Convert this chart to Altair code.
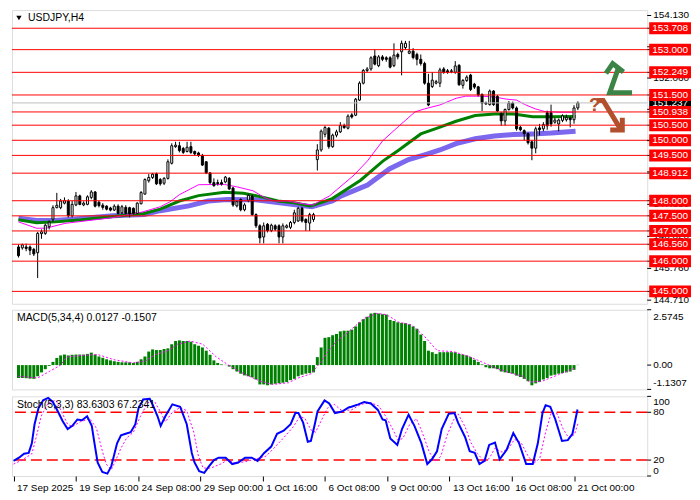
import altair as alt
import pandas as pd

FONT = "Liberation Sans"
W = 638
H_PRICE = 295
H_MACD = 80
H_STOCH = 80

TITLE = "USDJPY,H4"
MACD_TITLE = "MACD(5,34,4) 0.0127 -0.1507"
STOCH_TITLE = "Stoch(5,3,3) 83.6303 67.2341"

OPEN = [146.47,146.44,146.47,146.47,146.39,146.28,146.91,146.92,147.14,147.39,
        147.77,147.77,147.92,147.99,147.50,147.86,148.16,147.86,147.88,148.11,
        148.29,147.95,147.85,147.82,147.76,147.69,147.82,147.60,147.78,147.77,
        147.75,147.58,147.90,148.22,148.66,148.77,148.89,148.70,148.58,148.74,
        149.24,149.79,149.82,149.73,149.63,149.79,149.63,149.58,149.50,149.29,
        148.92,148.60,148.60,148.60,148.62,148.74,148.42,147.83,148.04,147.70,
        148.02,148.15,147.54,147.17,146.80,147.22,147.01,147.17,147.17,146.80,
        147.12,147.12,147.28,147.33,147.75,147.38,147.26,147.38,149.36,149.68,
        150.20,150.40,149.79,150.17,150.28,150.49,150.40,150.84,150.83,151.33,
        151.89,152.31,152.36,152.79,152.47,152.76,152.73,152.73,152.47,152.84,
        152.93,153.07,152.88,152.95,152.84,152.68,152.54,151.89,151.78,151.89,
        151.89,152.36,152.30,152.27,152.25,152.48,151.82,151.98,152.16,151.86,
        151.77,151.52,151.24,151.18,151.63,151.45,150.88,150.64,151.02,151.23,
        151.07,150.43,150.32,150.22,149.95,149.74,150.41,150.38,150.91,150.91,
        150.60,150.54,150.66,150.68,150.74,150.68,151.07]
HIGH = [146.55,146.58,146.58,146.52,146.44,146.97,147.05,147.24,147.35,147.85,
        148.26,148.06,148.11,148.05,148.00,148.29,148.20,147.98,148.18,148.35,
        148.32,148.00,147.92,147.85,147.80,147.88,147.88,147.86,147.85,147.80,
        147.78,147.95,148.32,148.74,148.88,148.92,148.93,148.75,148.78,149.37,
        149.90,149.95,149.95,149.78,149.95,149.95,149.66,149.62,149.55,149.30,
        148.95,148.74,148.70,148.70,148.82,148.78,148.46,148.00,148.08,147.92,
        148.23,148.20,147.58,147.22,147.28,147.26,147.24,147.22,147.22,147.25,
        147.22,147.33,147.70,147.80,147.80,147.42,147.60,147.60,149.87,150.36,
        150.48,150.44,150.22,150.35,150.60,150.55,150.86,150.90,151.40,151.95,
        152.36,152.42,152.78,153.00,152.82,152.82,152.78,152.78,153.21,152.90,
        153.30,153.29,153.29,153.05,152.90,152.84,152.60,152.20,152.26,152.00,
        152.40,152.42,152.36,152.36,152.62,152.52,152.03,152.15,152.20,151.90,
        151.80,151.55,151.28,151.68,151.66,151.50,150.93,151.05,151.30,151.28,
        151.12,150.48,150.36,150.26,150.00,150.45,150.54,150.60,150.98,151.18,
        150.75,150.72,150.86,150.85,150.79,151.16,151.29]
LOW = [146.12,146.38,146.33,146.20,146.17,145.44,146.74,146.87,147.05,147.30,
       147.75,147.72,147.88,147.45,147.45,147.82,147.85,147.82,147.85,148.05,
       147.78,147.78,147.70,147.68,147.65,147.66,147.55,147.56,147.55,147.45,
       147.55,147.55,147.88,148.20,148.60,148.72,148.52,148.50,148.52,148.70,
       149.20,149.75,149.60,149.55,149.60,149.55,149.50,149.45,149.15,148.88,
       148.55,148.46,148.50,148.50,148.58,148.35,147.80,147.78,147.65,147.65,
       147.95,147.50,147.10,146.59,146.59,146.95,146.96,147.00,146.59,146.59,
       147.08,147.06,147.22,147.30,147.28,147.00,147.00,147.30,149.00,149.62,
       150.10,149.72,149.75,150.10,150.24,150.38,150.36,150.72,150.80,151.30,
       151.85,152.25,152.30,152.48,152.42,152.62,152.60,152.38,152.42,152.68,
       152.15,153.00,152.85,152.68,152.48,152.47,151.84,151.13,151.73,151.85,
       151.76,152.20,152.20,152.22,152.20,151.80,151.71,151.93,151.63,151.70,
       151.45,150.97,151.18,151.15,151.14,150.94,150.48,150.48,150.98,151.02,
       150.32,150.30,150.00,149.86,149.34,149.57,150.16,150.30,150.35,150.45,
       150.55,150.30,150.60,150.62,150.43,150.55,151.00]
CLOSE = [146.18,146.54,146.42,146.36,146.24,146.92,146.97,147.19,147.29,147.77,
         147.85,147.99,148.00,147.50,147.88,148.16,147.88,147.92,148.13,148.29,
         147.82,147.84,147.78,147.72,147.69,147.82,147.58,147.80,147.58,147.57,
         147.58,147.92,148.27,148.70,148.77,148.88,148.56,148.56,148.74,149.29,
         149.82,149.84,149.66,149.60,149.77,149.60,149.55,149.50,149.18,148.92,
         148.60,148.50,148.57,148.55,148.78,148.39,147.86,147.97,147.70,147.86,
         148.18,147.54,147.17,146.77,147.17,147.01,147.19,147.06,146.80,147.17,
         147.17,147.28,147.60,147.75,147.33,147.28,147.54,147.54,149.68,150.30,
         150.42,149.79,150.17,150.28,150.49,150.42,150.80,150.77,151.36,151.89,
         152.31,152.36,152.73,152.52,152.76,152.68,152.68,152.42,152.82,152.76,
         153.21,153.21,152.95,152.74,152.68,152.54,151.89,151.17,151.99,151.94,
         152.33,152.25,152.25,152.30,152.46,151.84,151.98,152.09,151.68,151.76,
         151.50,151.23,151.20,151.63,151.18,150.97,150.64,151.02,151.23,151.07,
         150.38,150.35,150.22,149.92,149.74,150.38,150.35,150.52,150.48,150.54,
         150.67,150.67,150.81,150.76,150.68,151.07,151.237]

FAST_I = [0,4.7,7.2,12.1,24.6,32.1,37.0,39.5,42.0,47.0,53.7,57.0,61.2,64.4,66.9,70.2,75.1,76.9,79.4,81.1,
          87.6,91.1,95.1,99.3,103.5,106.0,110.0,114.2,116.7,121.0,124.2,127.5,130.0,132.4,134.9,137.4,140.9,145.4]
FAST_P = [147.30,147.09,147.09,147.25,147.44,147.62,147.80,147.96,148.20,148.53,148.54,148.46,148.33,148.09,147.99,147.99,147.88,147.86,148.04,148.15,
          148.85,149.32,149.99,150.47,150.94,151.04,151.17,151.39,151.46,151.46,151.43,151.36,151.33,151.17,151.04,150.95,150.93,150.93]
MID_I = [0,4.7,9.6,16.4,24.6,32.8,37.0,42.0,47.0,53.7,58.7,63.7,67.7,71.9,76.1,77.6,81.9,89.3,95.1,99.3,
         105.0,109.3,114.2,119.2,124.2,129.2,134.2,139.1,145.4]
MID_P = [147.37,147.27,147.30,147.37,147.48,147.58,147.72,147.99,148.17,148.28,148.25,148.12,147.99,147.93,147.83,147.88,148.07,148.68,149.31,149.68,
         150.21,150.40,150.63,150.82,150.87,150.87,150.78,150.78,150.79]
SLOW_I = [0,4.7,9.6,16.4,24.6,32.8,37.0,44.5,49.5,54.5,61.9,70.2,76.6,81.9,84.4,91.1,96.8,101.8,106.0,110.0,
          114.2,119.2,124.2,129.2,134.2,139.1,145.4]
SLOW_P = [147.42,147.35,147.35,147.41,147.50,147.54,147.67,147.83,147.99,148.04,148.03,147.90,147.80,147.99,148.17,148.52,149.05,149.36,149.52,149.68,
          149.89,150.05,150.14,150.19,150.21,150.24,150.30]

LEVELS = [153.708, 153.000, 152.249, 151.500, 150.938, 150.500, 150.000, 149.500,
          148.912, 148.000, 147.500, 147.000, 146.560, 146.000, 145.000]
CURRENT = 151.237
PRICE_TICKS = [154.130, 153.095, 152.060, 151.025, 149.990, 148.955, 147.880, 146.820, 145.760, 144.710]
PRICE_TICK_LABELS = [154.130, 152.060, 147.880, 146.820, 145.760, 144.710]

MACD_HIST = [-0.60,-0.60,-0.61,-0.63,-0.64,-0.52,-0.34,-0.19,-0.04,0.15,
             0.33,0.45,0.49,0.45,0.48,0.49,0.49,0.49,0.52,0.58,
             0.49,0.40,0.34,0.27,0.22,0.18,0.15,0.13,0.13,0.13,
             0.10,0.15,0.27,0.40,0.63,0.73,0.70,0.70,0.75,0.78,
             0.97,1.12,1.15,1.12,1.12,1.09,0.97,0.90,0.82,0.67,
             0.48,0.22,0.10,0.03,0.01,-0.07,-0.19,-0.30,-0.40,-0.48,
             -0.52,-0.57,-0.67,-0.90,-0.90,-0.94,-0.90,-0.87,-0.85,-0.82,
             -0.79,-0.70,-0.64,-0.52,-0.45,-0.40,-0.37,-0.34,0.37,0.82,
             1.27,1.30,1.39,1.45,1.57,1.60,1.60,1.65,
             1.80,1.99,2.14,2.25,2.40,2.43,2.40,2.37,2.35,2.10,
             2.05,1.99,1.96,1.95,1.90,1.80,1.69,1.42,1.12,0.67,
             0.60,0.52,0.60,0.60,0.60,0.60,0.60,0.52,0.49,0.45,
             0.37,0.25,0.15,0.03,-0.10,-0.15,-0.15,-0.19,-0.30,-0.34,
             -0.37,-0.40,-0.49,-0.55,-0.64,-0.75,-0.94,-0.85,-0.79,-0.67,
             -0.60,-0.49,-0.45,-0.40,-0.37,-0.34,-0.30,-0.22,0.01]
MACD_SIG_I = [0,5,8,11,12.5,16.6,20.7,24.9,29.9,33.2,35.7,39,41.5,44.8,48.1,51.5,54.8,58.1,63.1,66.4,
              70.5,73,76.4,78.9,82.2,86.8,90.2,93.5,96,99.3,102.6,105.9,109.3,113.4,117.6,120.9,124.3,128.4,131.7,133.4,
              136.7,140.9,145]
MACD_SIG_V = [-0.52,-0.60,-0.30,0.0,0.37,0.45,0.49,0.25,0.10,0.19,0.49,0.67,0.97,1.12,0.97,0.40,0.0,-0.34,-0.75,-0.90,
              -0.82,-0.60,-0.40,0.15,0.97,1.65,2.17,2.40,2.35,1.99,1.87,1.35,0.67,0.63,0.40,0.15,-0.12,-0.37,-0.52,-0.79,
              -0.75,-0.45,-0.15]
MACD_MAX_LABEL = "2.5745"
MACD_MIN_LABEL = "-1.1307"
MACD_DOMAIN = [-1.1307, 2.5745]

STOCH_K_I = [0,1.4,2.7,3.9,4.7,5.4,6.4,7.6,8.9,10.1,11.4,12.6,13.9,15.1,16.4,17.6,18.9,20.1,20.8,21.6,
             22.8,24.1,25.1,26.6,27.6,28.8,30.1,31.3,32.1,33.3,35.0,35.8,37.0,37.8,39.0,40.8,42.8,44.5,45.8,46.5,
             47.7,49.0,50.2,51.5,52.7,54.5,56.2,57.7,59.5,61.2,62.7,64.4,66.2,67.7,69.4,71.2,72.4,73.2,74.4,75.6,
             76.4,77.4,78.1,79.9,81.1,82.6,84.4,86.1,86.8,88.6,90.1,91.8,93.6,94.8,95.6,96.8,98.6,99.8,101.5,103.0,
             104.8,106.3,107.5,108.8,110.0,111.8,113.3,114.2,116.0,117.2,118.5,119.7,121.0,122.2,123.7,124.9,126.7,128.4,129.9,131.7,
             133.4,134.7,135.9,136.7,137.9,139.2,140.9,142.4,143.6,144.9]
STOCH_K_V = [19,23,28,29,41,65,85,95,98,93,81,69,59,63,71,70,75,63,41,17,
             5,3,12,41,51,53,55,65,85,96,97,89,75,63,75,90,87,65,29,17,
             6,4,12,20,23,23,15,17,23,23,19,29,37,53,57,65,79,79,67,43,
             44,65,81,95,91,79,81,86,87,90,93,91,83,71,70,47,39,59,77,63,
             41,15,21,31,59,78,79,67,49,31,29,15,19,39,42,21,33,54,41,15,
             15,41,79,89,87,71,44,45,53,83.6]
STOCH_D_I = [0,2.2,4.7,5.9,7.1,8.9,10.9,12.6,13.9,15.1,17.1,19.6,21.3,22.6,23.8,25.1,26.3,27.6,29.1,30.8,
             32.6,34.5,36.3,37.8,39.0,40.8,42.8,44.5,46.3,47.5,48.7,50.7,53.2,55.0,57.0,59.5,61.9,64.9,66.9,69.4,
             71.9,73.6,74.9,76.4,77.6,78.9,80.6,82.4,84.4,86.8,89.3,91.8,93.8,95.6,97.3,98.8,100.0,101.8,103.5,105.0,
             106.8,108.5,109.8,111.3,113.0,114.2,116.0,117.5,119.2,121.0,122.2,123.7,125.5,127.2,128.7,130.4,132.2,133.7,135.2,136.7,
             138.2,139.7,141.1,142.6,144.1,145.1]
STOCH_D_V = [15,20,28,50,75,92,95,78,65,62,68,72,60,35,15,8,20,35,48,55,
             75,92,93,80,68,80,86,82,55,25,10,10,15,20,16,18,21,25,35,48,
             62,75,72,58,55,68,85,90,82,83,90,92,88,75,60,45,47,65,72,55,
             30,18,25,50,70,78,62,42,28,18,22,35,30,35,46,42,25,16,22,55,
             80,78,60,48,52,67]
STOCH_LEVELS = [80, 20]

X_TICK_IDX = [0, 16, 32, 48, 64, 80, 96, 112, 128, 144]
X_TICK_LABELS = ["17 Sep 2025", "19 Sep 16:00", "24 Sep 08:00", "29 Sep 00:00", "1 Oct 16:00",
                 "6 Oct 08:00", "9 Oct 00:00", "13 Oct 16:00", "16 Oct 08:00", "21 Oct 00:00"]

# chart objects (buy / sell arrows) anchored in bar index / price
ARROW_UP_I = [153.7, 155.1, 157.4, 156.4, 154.3, 159.5]
ARROW_UP_P = [152.28, 152.54, 152.31, 152.33, 151.57, 151.57]
ARROW_UP_SEG = ["a", "a", "a", "b", "b", "b"]
ARROW_DN_I = [151.6, 152.6, 157.0, 155.1, 157.6, 157.6]
ARROW_DN_P = [151.32, 151.32, 150.40, 150.34, 150.34, 150.66]
ARROW_DN_SEG = ["c", "c", "c", "d", "d", "d"]
QMARK_I = [150.4]
QMARK_P = [151.17]

XS = alt.Scale(domain=[-0.4, 162.8], nice=False, zero=False)
PS = alt.Scale(domain=[144.59, 154.31], nice=False, zero=False)
MS = alt.Scale(domain=MACD_DOMAIN, nice=False, zero=False)
SS = alt.Scale(domain=[0, 100], nice=False, zero=False)


def xq():
    return alt.X("i:Q", scale=XS, axis=None)


def yq(f, sc):
    return alt.Y(f"{f}:Q", scale=sc, axis=None)


n = len(CLOSE)
candles = pd.DataFrame({"i": list(range(n)), "o": OPEN, "h": HIGH, "l": LOW, "c": CLOSE})
candles["dir"] = ["up" if c >= o else "down" for o, c in zip(OPEN, CLOSE)]

# ---------------- price panel ----------------
ma_slow = alt.Chart(pd.DataFrame({"i": SLOW_I, "p": SLOW_P})).mark_line(
    color="#7b68ee", strokeWidth=5).encode(x=xq(), y=yq("p", PS))
ma_mid = alt.Chart(pd.DataFrame({"i": MID_I, "p": MID_P})).mark_line(
    color="#008000", strokeWidth=3).encode(x=xq(), y=yq("p", PS))
ma_fast = alt.Chart(pd.DataFrame({"i": FAST_I, "p": FAST_P})).mark_line(
    color="#ff00ff", strokeWidth=1).encode(x=xq(), y=yq("p", PS))

wicks = alt.Chart(candles).mark_rule(color="black", strokeWidth=1).encode(
    x=xq(), y=yq("l", PS), y2="h:Q")
bodies = alt.Chart(candles).mark_bar(size=2, stroke="black", strokeWidth=1).encode(
    x=xq(), y=yq("o", PS), y2="c:Q",
    color=alt.Color("dir:N", scale=alt.Scale(domain=["up", "down"], range=["white", "black"]), legend=None))

lv = pd.DataFrame({"p": LEVELS, "lab": [f"{v:.3f}" for v in LEVELS]})
cur = pd.DataFrame({"p": [CURRENT], "lab": [f"{CURRENT:.3f}"]})
tk = pd.DataFrame({"p": PRICE_TICKS})
tkl = pd.DataFrame({"p": PRICE_TICK_LABELS, "lab": [f"{v:.3f}" for v in PRICE_TICK_LABELS]})

cur_rule = alt.Chart(cur).mark_rule(color="#c0c0c0", strokeWidth=1).encode(y=yq("p", PS))
hlines = alt.Chart(lv).mark_rule(color="#ff0000", strokeWidth=1).encode(y=yq("p", PS))

tick_marks = alt.Chart(tk).mark_rule(color="black").encode(
    x=alt.value(W), x2=alt.value(W + 4), y=yq("p", PS))
tick_labels = alt.Chart(tkl).mark_text(align="left", baseline="middle", fontSize=10, font=FONT, color="black").encode(
    x=alt.value(W + 6), y=yq("p", PS), text="lab:N")
lv_marks = alt.Chart(lv).mark_rule(color="black").encode(
    x=alt.value(W), x2=alt.value(W + 4), y=yq("p", PS))

cur_box = alt.Chart(cur).mark_tick(orient="horizontal", size=42, thickness=12, color="black", opacity=1).encode(
    x=alt.value(W + 23), y=yq("p", PS))
cur_text = alt.Chart(cur).mark_text(align="center", baseline="middle", fontSize=10, font=FONT, color="white").encode(
    x=alt.value(W + 23), y=yq("p", PS), text="lab:N")
boxes = alt.Chart(lv).mark_tick(orient="horizontal", size=42, thickness=12, color="#ff0000", opacity=1).encode(
    x=alt.value(W + 23), y=yq("p", PS))
box_text = alt.Chart(lv).mark_text(align="center", baseline="middle", fontSize=10, font=FONT, color="white").encode(
    x=alt.value(W + 23), y=yq("p", PS), text="lab:N")

one = pd.DataFrame({"t": [TITLE]})
title_tri = alt.Chart(one).mark_point(shape="triangle-down", filled=True, size=28, color="black", opacity=1).encode(
    x=alt.value(7), y=alt.value(8))
title_txt = alt.Chart(one).mark_text(align="left", baseline="middle", fontSize=10.5, font=FONT, color="black").encode(
    x=alt.value(16), y=alt.value(8), text="t:N")

up_df = pd.DataFrame({"i": ARROW_UP_I, "p": ARROW_UP_P, "seg": ARROW_UP_SEG, "o": list(range(len(ARROW_UP_I)))})
dn_df = pd.DataFrame({"i": ARROW_DN_I, "p": ARROW_DN_P, "seg": ARROW_DN_SEG, "o": list(range(len(ARROW_DN_I)))})
arrow_up = alt.Chart(up_df).mark_line(color="#3b8446", strokeWidth=5, strokeJoin="miter", strokeCap="square").encode(
    x=xq(), y=yq("p", PS), detail="seg:N", order="o:Q")
arrow_dn = alt.Chart(dn_df).mark_line(color="#b24f2d", strokeWidth=5, strokeJoin="miter", strokeCap="square").encode(
    x=xq(), y=yq("p", PS), detail="seg:N", order="o:Q")
qmark = alt.Chart(pd.DataFrame({"i": QMARK_I, "p": QMARK_P, "t": ["?"]})).mark_text(
    fontSize=19, fontWeight="bold", font=FONT, color="#b24f2d").encode(x=xq(), y=yq("p", PS), text="t:N")

price = alt.layer(
    ma_slow, ma_mid, ma_fast, wicks, bodies, cur_rule, hlines,
    tick_marks, lv_marks, tick_labels, cur_box, cur_text, boxes, box_text,
    title_tri, title_txt, arrow_up, arrow_dn, qmark
).properties(width=W, height=H_PRICE)

# ---------------- MACD panel ----------------
macd_df = pd.DataFrame({"i": list(range(n)), "v": MACD_HIST, "z": [0] * n})
macd_bars = alt.Chart(macd_df).mark_bar(color="#008000", size=3).encode(
    x=xq(), y=yq("v", MS), y2="z:Q")
macd_sig = alt.Chart(pd.DataFrame({"i": MACD_SIG_I, "v": MACD_SIG_V})).mark_line(
    color="#ff00ff", strokeWidth=1, strokeDash=[2, 2]).encode(x=xq(), y=yq("v", MS))
macd_title = alt.Chart(pd.DataFrame({"t": [MACD_TITLE]})).mark_text(
    align="left", baseline="middle", fontSize=10.5, font=FONT, color="black").encode(
    x=alt.value(5), y=alt.value(8), text="t:N")
mlab = pd.DataFrame({"v": [MACD_DOMAIN[1], 0.0, MACD_DOMAIN[0]],
                     "lab": [MACD_MAX_LABEL, "0.00", MACD_MIN_LABEL]})
macd_ticks = alt.Chart(mlab).mark_rule(color="black").encode(
    x=alt.value(W), x2=alt.value(W + 4), y=yq("v", MS))
macd_lab_top = alt.Chart(mlab.iloc[[0]]).mark_text(align="left", baseline="middle", dy=7, fontSize=10, font=FONT, color="black").encode(
    x=alt.value(W + 6), y=yq("v", MS), text="lab:N")
macd_lab_mid = alt.Chart(mlab.iloc[[1]]).mark_text(align="left", baseline="middle", fontSize=10, font=FONT, color="black").encode(
    x=alt.value(W + 6), y=yq("v", MS), text="lab:N")
macd_lab_bot = alt.Chart(mlab.iloc[[2]]).mark_text(align="left", baseline="middle", dy=-6, fontSize=10, font=FONT, color="black").encode(
    x=alt.value(W + 6), y=yq("v", MS), text="lab:N")
macd = alt.layer(macd_bars, macd_sig, macd_title, macd_ticks, macd_lab_top, macd_lab_mid, macd_lab_bot).properties(
    width=W, height=H_MACD)

# ---------------- Stochastic panel ----------------
label_expr = ("[" + ",".join(f"'{s}'" for s in X_TICK_LABELS) + "][indexof(["
              + ",".join(str(v) for v in X_TICK_IDX) + "], datum.value)]")
XAX = alt.X("i:Q", scale=XS, axis=alt.Axis(
    values=X_TICK_IDX, labelExpr=label_expr, labelAlign="left", labelBaseline="top",
    labelPadding=2, labelOffset=3, tickSize=5, tickColor="black", tickWidth=1, domain=False,
    grid=False, labelFlush=False, labelOverlap=False, labelBound=False, labelFont=FONT,
    labelFontSize=10, labelColor="black", title=None))

st_lv = pd.DataFrame({"v": STOCH_LEVELS})
st_rules = alt.Chart(st_lv).mark_rule(color="#ff0000", strokeWidth=1.5, strokeDash=[11, 5]).encode(y=yq("v", SS))
st_d = alt.Chart(pd.DataFrame({"i": STOCH_D_I, "v": STOCH_D_V})).mark_line(
    color="#ff00ff", strokeWidth=1, strokeDash=[2, 2]).encode(x=XAX, y=yq("v", SS))
st_k = alt.Chart(pd.DataFrame({"i": STOCH_K_I, "v": STOCH_K_V})).mark_line(
    color="#0000ff", strokeWidth=2).encode(x=XAX, y=yq("v", SS))
st_title = alt.Chart(pd.DataFrame({"t": [STOCH_TITLE]})).mark_text(
    align="left", baseline="middle", fontSize=10.5, font=FONT, color="black").encode(
    x=alt.value(5), y=alt.value(9), text="t:N")
slab = pd.DataFrame({"v": [100, 80, 20, 0], "lab": ["100", "80", "20", "0"]})
st_ticks = alt.Chart(slab).mark_rule(color="black").encode(
    x=alt.value(W), x2=alt.value(W + 4), y=yq("v", SS))
st_lab_top = alt.Chart(slab.iloc[[0]]).mark_text(align="left", baseline="middle", dy=6, fontSize=10, font=FONT, color="black").encode(
    x=alt.value(W + 6), y=yq("v", SS), text="lab:N")
st_lab_mid = alt.Chart(slab.iloc[[1, 2]]).mark_text(align="left", baseline="middle", fontSize=10, font=FONT, color="black").encode(
    x=alt.value(W + 6), y=yq("v", SS), text="lab:N")
st_lab_bot = alt.Chart(slab.iloc[[3]]).mark_text(align="left", baseline="middle", dy=-5, fontSize=10, font=FONT, color="black").encode(
    x=alt.value(W + 6), y=yq("v", SS), text="lab:N")
stoch = alt.layer(st_rules, st_d, st_k, st_title, st_ticks, st_lab_top, st_lab_mid, st_lab_bot).properties(
    width=W, height=H_STOCH)

chart = alt.vconcat(price, macd, stoch, spacing=3).resolve_scale(
    y="independent"
).properties(
    padding={"left": 0, "top": 0, "right": 0, "bottom": 0},
    background="white"
).configure_view(
    stroke="black", strokeWidth=1
).configure(font=FONT)

chart.save("out.html", embed_options={"renderer": "svg", "actions": False})
